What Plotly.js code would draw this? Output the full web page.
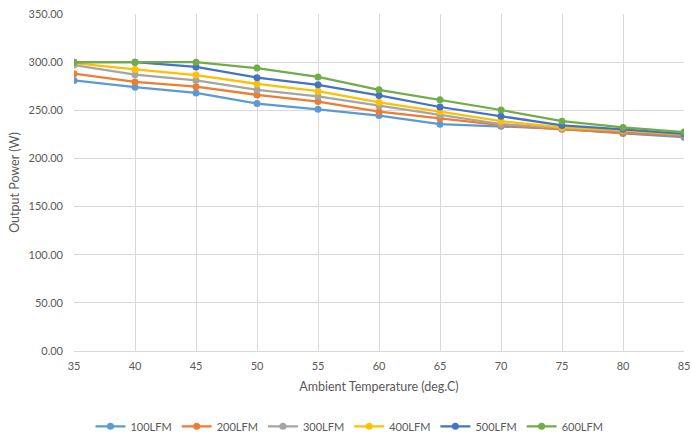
<!DOCTYPE html>
<html>
<head>
<meta charset="utf-8">
<script src="https://cdn.plot.ly/plotly-3.0.1.min.js"></script>
<style>html,body{margin:0;padding:0;background:#fff;}#chart{width:692px;height:435px;}</style>
</head>
<body>
<div id="chart"></div>
<script>
const temps = [35, 40, 45, 50, 55, 60, 65, 70, 75, 80, 85];
const lfm100 = [281, 274, 268, 257, 251, 244.5, 235.6, 233.5, 230.8, 226, 222];
const lfm200 = [288, 279.5, 274.5, 266, 259, 248.6, 241.5, 234.5, 230.2, 226.7, 223.3];
const lfm300 = [297, 287, 281, 271.2, 264.4, 254.8, 244.9, 235.6, 231.5, 228.8, 224.5];
const lfm400 = [299, 292.4, 286.6, 277.4, 269.8, 258.2, 248.6, 238.7, 232.2, 229.5, 225];
const lfm500 = [300, 300, 295, 283.9, 276.4, 265.4, 253.4, 243.8, 234.3, 230.2, 225.4];
const lfm600 = [300, 300, 300, 293.8, 284.6, 271.2, 261, 250.3, 238.7, 232.2, 227.4];
const seriesNames = ['100LFM', '200LFM', '300LFM', '400LFM', '500LFM', '600LFM'];
const seriesValues = [lfm100, lfm200, lfm300, lfm400, lfm500, lfm600];
const colors = ['#5B9BD5', '#ED7D31', '#A5A5A5', '#FFC000', '#4472C4', '#70AD47'];
const xTicks = [35, 40, 45, 50, 55, 60, 65, 70, 75, 80, 85];

const font = 'Lato, "Open Sans", sans-serif';
const traces = seriesValues.map((vals, i) => ({
  x: temps, y: vals, name: seriesNames[i], type: 'scatter', mode: 'lines+markers',
  line: {color: colors[i], width: 2.25},
  marker: {color: colors[i], size: 7}
}));

const layout = {
  width: 692, height: 435,
  margin: {l: 74, r: 8, t: 14, b: 84},
  paper_bgcolor: '#fff', plot_bgcolor: '#fff',
  font: {family: font, size: 11, color: '#595959'},
  showlegend: true,
  xaxis: {
    range: [35, 85], tickvals: xTicks, ticktext: xTicks.map(String),
    showgrid: true, gridcolor: '#d9d9d9', gridwidth: 1,
    showline: true, linecolor: '#d9d9d9', zeroline: false, ticks: '',
    ticklabelstandoff: 5,
    title: {text: 'Ambient Temperature (deg.C)', font: {size: 12.5, color: '#595959'}, standoff: 11}
  },
  yaxis: {
    range: [0, 350], dtick: 50, tickformat: '.2f',
    showgrid: true, gridcolor: '#d9d9d9', gridwidth: 1,
    showline: false, zeroline: false, ticks: '',
    ticklabelstandoff: 10,
    title: {text: 'Output Power (W)', font: {size: 12.5, color: '#595959'}, standoff: 6}
  },
  legend: {
    orientation: 'h', xref: 'container', yref: 'container',
    x: 0.505, xanchor: 'center', y: 0.02, yanchor: 'middle',
    font: {size: 11, color: '#595959'}, itemwidth: 30
  }
};

Plotly.newPlot('chart', traces, layout, {displayModeBar: false, staticPlot: true});
</script>
</body>
</html>
